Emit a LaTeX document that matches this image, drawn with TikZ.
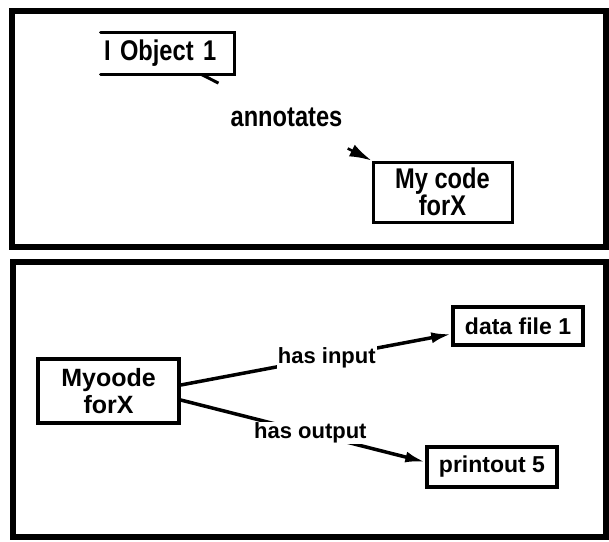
\documentclass[tikz,border=0pt]{standalone}
\usepackage{fontspec}
\setmainfont{Liberation Sans}
\newfontfamily\topfont{Liberation Sans}[FakeStretch=0.83]
\usetikzlibrary{arrows.meta,calc}
\begin{document}
\begin{tikzpicture}[x=1pt,y=-1pt,
  panel/.style={line width=6pt},
  topbox/.style={draw, line width=3pt, inner sep=0pt, align=center,
    font=\topfont\bfseries\fontsize{28.5}{25}\selectfont},
  botbox/.style={draw, line width=3.5pt, inner sep=0pt, align=center,
    font=\bfseries\fontsize{23}{25}\selectfont},
  toplbl/.style={font=\topfont\bfseries\fontsize{28.5}{25}\selectfont, inner sep=1pt},
  botlbl/.style={font=\bfseries\fontsize{22}{24}\selectfont, fill=white, inner sep=1pt},
  conn/.style={line width=3.5pt, -{Latex[length=20pt,width=11pt]}}]
\useasboundingbox (0,0) rectangle (609,541);
% panels
\draw[panel] (11.5,11) rectangle (606,247);
\draw[panel] (12.5,261.5) rectangle (606,537);
% top panel
\node[topbox, draw=none, minimum width=131pt, minimum height=39pt,
  text width=127pt, align=left, inner xsep=2pt] (obj) at (167.5,53.5) {I Object 1};
\draw[line width=3pt, line cap=round] (obj.north west) -- (obj.north east) -- (obj.south east) -- (obj.south west);
\node[topbox, minimum width=139pt, minimum height=60pt] (code) at (442.5,192) {My code\\forX};
\coordinate (s) at ([xshift=-33pt]obj.south east);
\path (s) -- (code.north west) node[toplbl, pos=0.5] (ann) {annotates};
\draw[line width=3pt] (s) -- ($(s)!0.1!(code.north west)$);
\draw[line width=2.5pt, -{Latex[length=22pt,width=13pt]}] ($(s)!0.86!(code.north west)$) -- (code.north west);
% bottom panel
\node[botbox, minimum width=141pt, minimum height=64pt,
  font=\bfseries\fontsize{25}{27}\selectfont] (myo) at (108.5,391) {Myoode\\forX};
\node[botbox, minimum width=130pt, minimum height=38pt] (data) at (518,326) {data file 1};
\node[botbox, minimum width=130pt, minimum height=40pt] (print) at (492,467) {printout 5};
\draw[conn] ([yshift=6pt]myo.east) -- node[botlbl, pos=0.54] (hi) {has input} ([yshift=-8pt]data.west);
\draw[conn] ([yshift=-9pt]myo.east) -- node[botlbl, pos=0.53] (ho) {has output} ([yshift=5pt]print.west);
\end{tikzpicture}
\end{document}
